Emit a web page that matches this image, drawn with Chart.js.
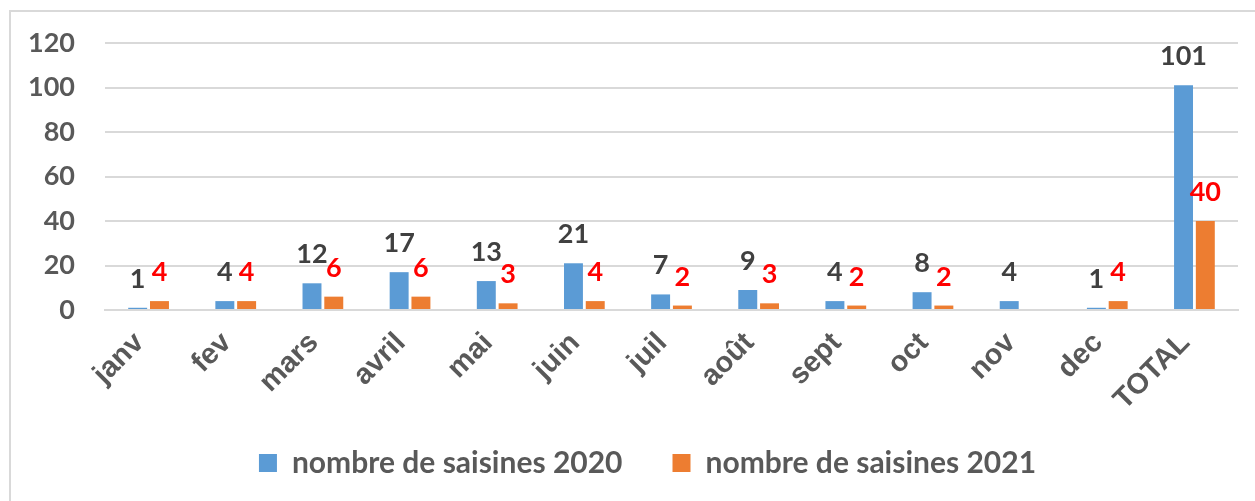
<!DOCTYPE html>
<html>
<head>
<meta charset="utf-8">
<script src="https://cdn.jsdelivr.net/npm/chart.js@4"></script>
<style>
  body { margin: 0; background: #fff; overflow: hidden; }
  #box { position: absolute; left: 9px; top: 10px; width: 1262px; height: 500px; border: 2px solid #d9d9d9; box-sizing: border-box; }
  #inner { position: absolute; left: 0; top: 0; width: 1246px; height: 491px; }
</style>
</head>
<body>
<div id="box"><div id="inner"><canvas id="chart"></canvas></div></div>
<script>
const categories = ['janv', 'fev', 'mars', 'avril', 'mai', 'juin', 'juil', 'août', 'sept', 'oct', 'nov', 'dec', 'TOTAL'];
const saisines2020 = [1, 4, 12, 17, 13, 21, 7, 9, 4, 8, 4, 1, 101];
const saisines2021 = [4, 4, 6, 6, 3, 4, 2, 3, 2, 2, 0, 4, 40];
const yTicks = [0, 20, 40, 60, 80, 100, 120];

const labelColors = ['#404040', '#ff0000'];

// value labels above the bars + small nudge of the legend
const valueLabels = {
  id: 'valueLabels',
  afterLayout(chart) {
    const lg = chart.legend;
    lg.left += 16; lg.right += 16;
    lg.top -= 12; lg.bottom -= 12;
  },
  afterDatasetsDraw(chart) {
    const ctx = chart.ctx;
    ctx.save();
    ctx.font = 'bold 27px Lato';
    ctx.textAlign = 'center';
    ctx.textBaseline = 'alphabetic';
    chart.data.datasets.forEach((ds, i) => {
      const meta = chart.getDatasetMeta(i);
      meta.data.forEach((bar, j) => {
        const v = ds.data[j];
        if (!v) return;
        ctx.fillStyle = labelColors[i];
        ctx.fillText(String(v), bar.x, bar.y - 20);
      });
    });
    ctx.restore();
  }
};

const chart = new Chart(document.getElementById('chart'), {
  type: 'bar',
  data: {
    labels: categories,
    datasets: [{
      label: 'nombre de saisines 2020',
      data: saisines2020,
      backgroundColor: '#5b9bd5'
    }, {
      label: 'nombre de saisines 2021',
      data: saisines2021,
      backgroundColor: '#ed7d31'
    }]
  },
  options: {
    responsive: true,
    maintainAspectRatio: false,
    animation: false,
    categoryPercentage: 0.5,
    barPercentage: 0.87,
    layout: { padding: { top: 31, right: 19, left: 14, bottom: 3 } },
    plugins: {
      tooltip: { enabled: false },
      legend: {
        position: 'bottom',
        labels: {
          color: '#595959',
          font: { family: 'Lato', size: 30, weight: 'bold' },
          boxWidth: 18,
          boxHeight: 18,
          padding: 50
        }
      }
    },
    scales: {
      x: {
        grid: { display: false },
        border: { color: '#d9d9d9', width: 2 },
        afterFit: s => { s.paddingLeft = 0; s.paddingRight = 0; s.height = 100; },
        ticks: {
          color: '#595959',
          padding: 8,
          labelOffset: -9,
          font: { family: 'Liberation Sans', size: 29, weight: 'bold' },
          maxRotation: 45,
          minRotation: 45
        }
      },
      y: {
        min: 0,
        max: 120,
        afterBuildTicks: axis => { axis.ticks = yTicks.map(v => ({ value: v })); },
        afterFit: s => { s.width = 80; s.paddingTop = 0; s.paddingBottom = 0; },
        grid: { color: '#d9d9d9', lineWidth: 2, drawTicks: false },
        border: { display: false },
        ticks: {
          color: '#595959',
          padding: 30,
          font: { family: 'Lato', size: 27, weight: 'bold' }
        }
      }
    }
  },
  plugins: [valueLabels]
});
</script>
</body>
</html>
